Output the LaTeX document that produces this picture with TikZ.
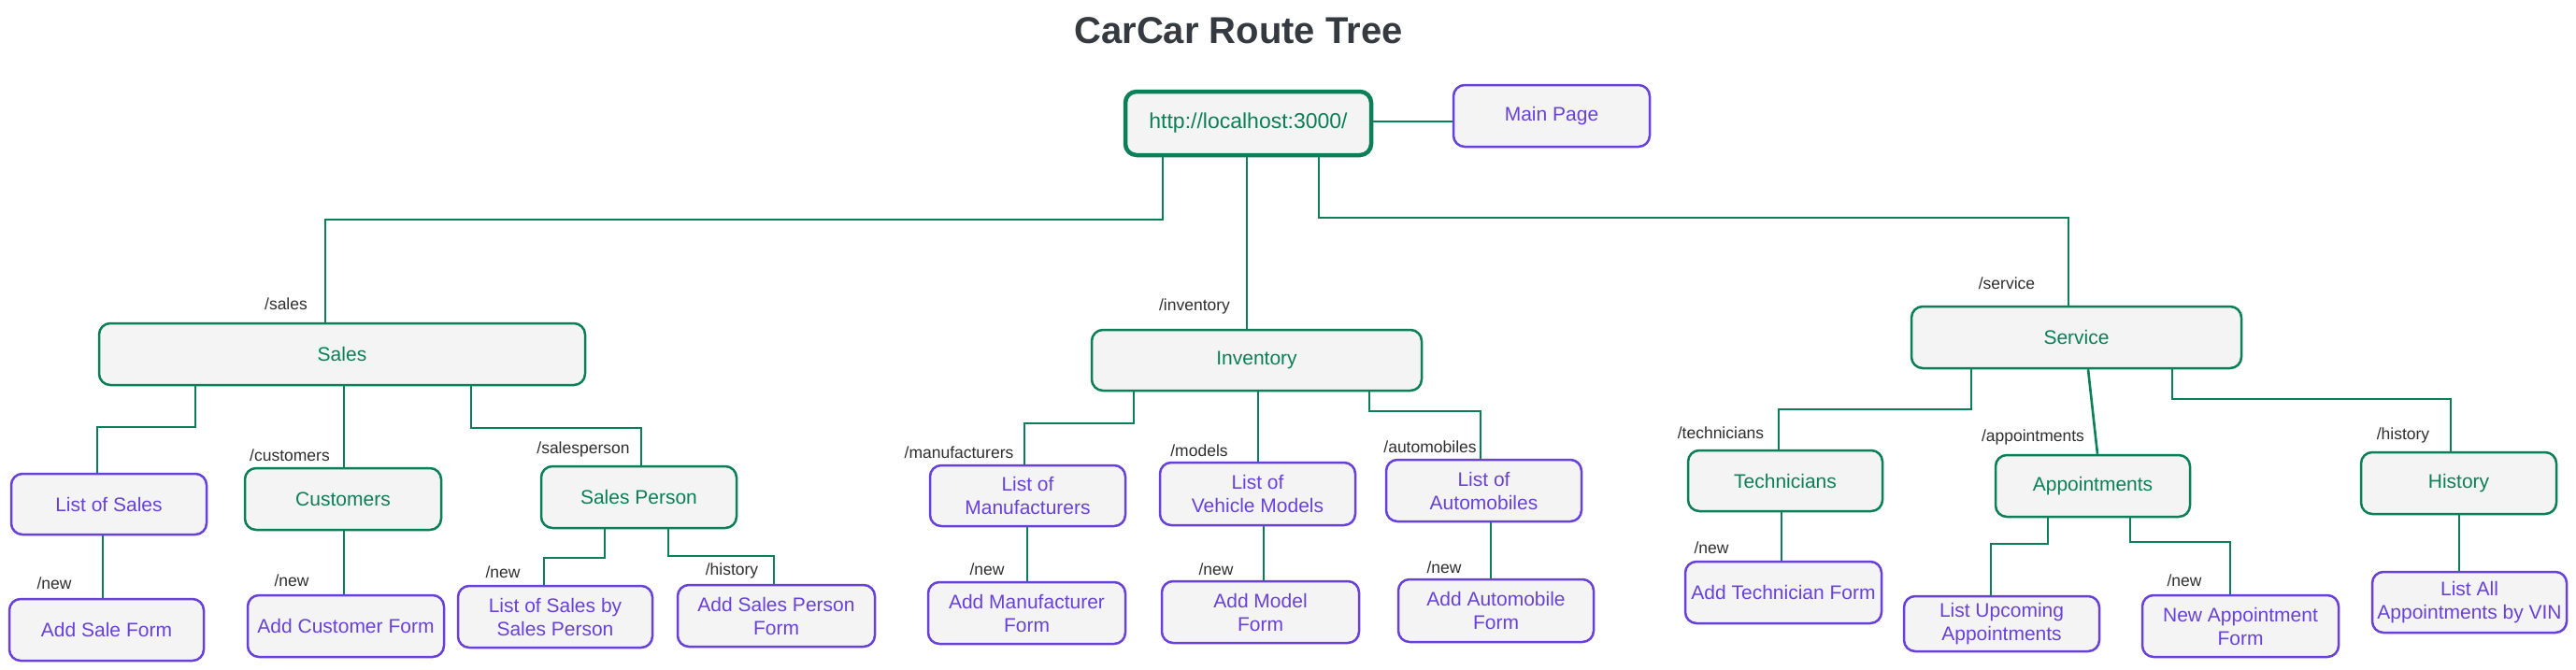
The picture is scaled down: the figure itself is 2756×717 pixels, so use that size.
\documentclass[tikz,border=0pt]{standalone}
\usepackage{fontspec}
\setmainfont{Liberation Sans}
\definecolor{grn}{HTML}{0B7F57}
\definecolor{vio}{HTML}{6741D9}
\definecolor{boxfill}{HTML}{F4F4F4}
\definecolor{lblcol}{HTML}{2E2E2E}
\definecolor{ttl}{HTML}{343A40}
\newcommand\bxfont{\fontsize{21}{25}\selectfont}
\newcommand\lbfont{\fontsize{17.5}{20}\selectfont}
\newcommand\ttlfont{\fontsize{40}{44}\selectfont\bfseries}
\tikzset{
  box/.style={rectangle, rounded corners=12pt, fill=boxfill, line width=2.5pt, inner sep=0pt, align=center, font=\bxfont},
  gbox/.style={box, draw=grn, text=grn},
  pbox/.style={box, draw=vio, text=vio},
  conn/.style={draw=grn, line width=2.6pt},
  lbl/.style={font=\lbfont, text=lblcol, inner sep=0pt},
}
\begin{document}
\begin{tikzpicture}[x=1pt,y=-1pt]
\fill[white] (0,0) rectangle (2756,717);
\useasboundingbox (0,0) rectangle (2756,717);

% title
\node[font=\ttlfont, text=ttl] (title) at (1325,33) {CarCar Route Tree};

% level 0
\node[gbox, line width=4.5pt, minimum width=263pt, minimum height=68pt, font=\fontsize{23}{26}\selectfont] (root) at (1335.5,132) {http://localhost:3000/};
\node[pbox, minimum width=210pt, minimum height=66pt] (main) at (1660,124) {Main Page};

% level 1
\node[gbox, minimum width=520pt, minimum height=66pt] (sales) at (366,379) {Sales};
\node[gbox, minimum width=353pt, minimum height=65pt] (inv) at (1344.5,385.5) {Inventory};
\node[gbox, minimum width=353pt, minimum height=66pt] (serv) at (2221.5,361) {Service};

% level 2
\node[pbox, minimum width=209pt, minimum height=65pt] (los) at (116.5,539.5) {List of Sales};
\node[gbox, minimum width=210pt, minimum height=66pt] (cust) at (367,534) {Customers};
\node[gbox, minimum width=209pt, minimum height=66pt] (sp) at (683.5,532) {Sales Person};
\node[pbox, minimum width=209pt, minimum height=65pt] (lom) at (1099.5,530.5) {List of\\Manufacturers};
\node[pbox, minimum width=209pt, minimum height=67pt] (lvm) at (1345.5,528.5) {List of\\Vehicle Models};
\node[pbox, minimum width=209pt, minimum height=66pt] (loa) at (1587.5,525) {List of\\Automobiles};
\node[gbox, minimum width=208pt, minimum height=65pt] (tech) at (1910,514.5) {Technicians};
\node[gbox, minimum width=208pt, minimum height=66pt] (appt) at (2239,520) {Appointments};
\node[gbox, minimum width=209pt, minimum height=66pt] (hist) at (2630.5,517) {History};

% level 3
\node[pbox, minimum width=208pt, minimum height=66pt] (addsale) at (114,674) {Add Sale Form};
\node[pbox, minimum width=210pt, minimum height=66pt] (addcust) at (370,670) {Add Customer Form};
\node[pbox, minimum width=208pt, minimum height=66pt] (lsbsp) at (594,660) {List of Sales by\\Sales Person};
\node[pbox, minimum width=211pt, minimum height=66pt] (addsp) at (830.5,659) {Add Sales Person\\Form};
\node[pbox, minimum width=211pt, minimum height=66pt] (addman) at (1098.5,656) {Add Manufacturer\\Form};
\node[pbox, minimum width=211pt, minimum height=66pt] (addmod) at (1348.5,655) {Add Model\\Form};
\node[pbox, minimum width=209pt, minimum height=67pt] (addauto) at (1600.5,653.5) {Add Automobile\\Form};
\node[pbox, minimum width=210pt, minimum height=66pt] (addtech) at (1908,634) {Add Technician Form};
\node[pbox, minimum width=209pt, minimum height=59pt] (lua) at (2141.5,667.5) {List Upcoming\\Appointments};
\node[pbox, minimum width=210pt, minimum height=66pt] (newappt) at (2397,670) {New Appointment\\Form};
\node[pbox, minimum width=208pt, minimum height=65pt] (laabv) at (2642,644.5) {List All\\Appointments by VIN};

% labels
\node[lbl] (l-sales) at (306,325) {/sales};
\node[lbl] (l-inv) at (1278,328) {/inventory};
\node[lbl] (l-serv) at (2147,303) {/service};
\node[lbl] (l-cust) at (310,487) {/customers};
\node[lbl] (l-sp) at (624,481) {/salesperson};
\node[lbl] (l-new1) at (58,624) {/new};
\node[lbl] (l-new2) at (312,621) {/new};
\node[lbl] (l-new3) at (538,612) {/new};
\node[lbl] (l-hist1) at (783,611) {/history};
\node[lbl] (l-man) at (1026,484) {/manufacturers};
\node[lbl] (l-mod) at (1283,482) {/models};
\node[lbl] (l-auto) at (1530,478) {/automobiles};
\node[lbl] (l-new4) at (1056,609) {/new};
\node[lbl] (l-new5) at (1301,609) {/new};
\node[lbl] (l-new6) at (1545,607) {/new};
\node[lbl] (l-tech) at (1841,463) {/technicians};
\node[lbl] (l-appt) at (2175,468) {/appointments};
\node[lbl] (l-hist2) at (2571,466) {/history};
\node[lbl] (l-new7) at (1831,586) {/new};
\node[lbl] (l-new8) at (2337,621) {/new};

% connectors
\draw[conn] (root.east |- 0,130) -- (main.west |- 0,130);
\draw[conn] (1244,0 |- root.south) -- (1244,235) -| (348,0 |- sales.north);
\draw[conn] (1334,0 |- root.south) -- (1334,0 |- inv.north);
\draw[conn] (1411,0 |- root.south) -- (1411,233) -| (2213,0 |- serv.north);

\draw[conn] (209,0 |- sales.south) -- (209,457) -| (104,0 |- los.north);
\draw[conn] (368,0 |- sales.south) -- (368,0 |- cust.north);
\draw[conn] (504,0 |- sales.south) -- (504,458) -| (686,0 |- sp.north);
\draw[conn] (110,0 |- los.south) -- (110,0 |- addsale.north);
\draw[conn] (368,0 |- cust.south) -- (368,0 |- addcust.north);
\draw[conn] (647,0 |- sp.south) -- (647,597) -| (582,0 |- lsbsp.north);
\draw[conn] (715,0 |- sp.south) -- (715,595) -| (828,0 |- addsp.north);

\draw[conn] (1213,0 |- inv.south) -- (1213,453) -| (1096,0 |- lom.north);
\draw[conn] (1346,0 |- inv.south) -- (1346,0 |- lvm.north);
\draw[conn] (1465,0 |- inv.south) -- (1465,440) -| (1584,0 |- loa.north);
\draw[conn] (1099,0 |- lom.south) -- (1099,0 |- addman.north);
\draw[conn] (1352,0 |- lvm.south) -- (1352,0 |- addmod.north);
\draw[conn] (1595,0 |- loa.south) -- (1595,0 |- addauto.north);

\draw[conn] (2109,0 |- serv.south) -- (2109,438) -| (1903,0 |- tech.north);
\draw[conn] (2234,0 |- serv.south) -- (2244,0 |- appt.north);
\draw[conn] (2324,0 |- serv.south) -- (2324,427) -| (2622,0 |- hist.north);
\draw[conn] (1906,0 |- tech.south) -- (1906,0 |- addtech.north);
\draw[conn] (2191,0 |- appt.south) -- (2191,582) -| (2130,0 |- lua.north);
\draw[conn] (2279,0 |- appt.south) -- (2279,580) -| (2386,0 |- newappt.north);
\draw[conn] (2631,0 |- hist.south) -- (2631,0 |- laabv.north);
\end{tikzpicture}
\end{document}
